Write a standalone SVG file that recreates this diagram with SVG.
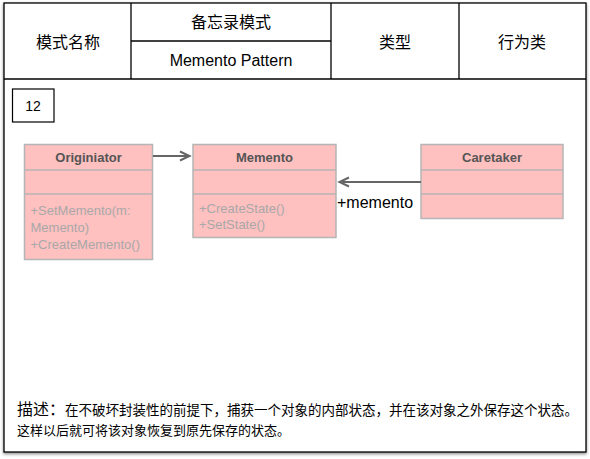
<svg xmlns="http://www.w3.org/2000/svg" width="590" height="459" viewBox="0 0 590 459">
<defs>
<style>
.cell{fill:none;stroke:#000;stroke-width:1.3}
.hdr{font-family:"Liberation Sans","Noto Sans CJK SC",sans-serif;font-size:16px;fill:#000;text-anchor:middle}
.cls{fill:#ffc0c0;stroke:#b5b5b5;stroke-width:1.5}
.title{font-family:"Liberation Sans","Noto Sans CJK SC",sans-serif;font-size:13px;font-weight:bold;fill:#555;text-anchor:middle}
.meth{font-family:"Liberation Sans",sans-serif;font-size:13px;fill:#a8a8a8}
.conn{stroke:#666;stroke-width:2;fill:none}
.desc{font-family:"Liberation Sans","Noto Sans CJK SC",sans-serif;fill:#000}
</style>
<filter id="sh" x="-5%" y="-5%" width="110%" height="110%">
<feDropShadow dx="0" dy="1.5" stdDeviation="1.5" flood-color="#000" flood-opacity="0.45"/>
</filter>
</defs>
<rect x="0" y="0" width="590" height="459" fill="#fff"/>
<g id="frame">
<rect x="4" y="3" width="582" height="449" fill="#fff" stroke="#000" stroke-width="1.3" filter="url(#sh)"/>
<line class="cell" x1="4" y1="79" x2="586" y2="79"/>
<line class="cell" x1="131" y1="3" x2="131" y2="79"/>
<line class="cell" x1="331" y1="3" x2="331" y2="79"/>
<line class="cell" x1="459" y1="3" x2="459" y2="79"/>
<line class="cell" x1="131" y1="41" x2="331" y2="41"/>
<text class="hdr" x="68" y="47.5">模式名称</text>
<text class="hdr" x="231" y="27.5">备忘录模式</text>
<text class="hdr" x="231" y="65.5">Memento Pattern</text>
<text class="hdr" x="395" y="47.5">类型</text>
<text class="hdr" x="522" y="47.5">行为类</text>
</g>
<g id="num">
<rect x="12.5" y="89" width="41.5" height="33" fill="#fff" stroke="#000" stroke-width="1.2"/>
<text x="33" y="110.5" font-family="Liberation Sans,sans-serif" font-size="14" text-anchor="middle">12</text>
</g>
<g id="originiator">
<rect class="cls" x="24.5" y="144.5" width="128" height="115"/>
<line class="cls" x1="24.5" y1="170" x2="152.5" y2="170"/>
<line class="cls" x1="24.5" y1="194" x2="152.5" y2="194"/>
<text class="title" x="88.5" y="161.5">Originiator</text>
<text class="meth" x="30.5" y="214.5">+SetMemento(m:</text>
<text class="meth" x="30.5" y="231.5">Memento)</text>
<text class="meth" x="30.5" y="248.5">+CreateMemento()</text>
</g>
<g id="memento">
<rect class="cls" x="193" y="144.5" width="143" height="93"/>
<line class="cls" x1="193" y1="170" x2="336" y2="170"/>
<line class="cls" x1="193" y1="194" x2="336" y2="194"/>
<text class="title" x="264.5" y="161.5">Memento</text>
<text class="meth" x="199" y="212.5">+CreateState()</text>
<text class="meth" x="199" y="229">+SetState()</text>
</g>
<g id="caretaker">
<rect class="cls" x="421" y="144.5" width="142" height="74"/>
<line class="cls" x1="421" y1="170" x2="563" y2="170"/>
<line class="cls" x1="421" y1="194" x2="563" y2="194"/>
<text class="title" x="492" y="161.5">Caretaker</text>
</g>
<g id="connectors">
<line class="conn" x1="153" y1="156" x2="189" y2="156"/>
<polyline class="conn" points="180,151.5 189.5,156 180,160.5"/>
<line class="conn" x1="421" y1="182" x2="340" y2="182"/>
<polyline class="conn" points="349,177.5 339.5,182 349,186.5"/>
<text x="337" y="207.5" font-family="Liberation Sans,sans-serif" font-size="16" fill="#000">+memento</text>
</g>
<g id="description">
<text class="desc" x="17" y="415"><tspan font-size="16">描述：</tspan><tspan font-size="13.5">在不破坏封装性的前提下，捕获一个对象的内部状态，并在该对象之外保存这个状态。</tspan></text>
<text class="desc" x="17" y="435" font-size="13">这样以后就可将该对象恢复到原先保存的状态。</text>
</g>
</svg>
